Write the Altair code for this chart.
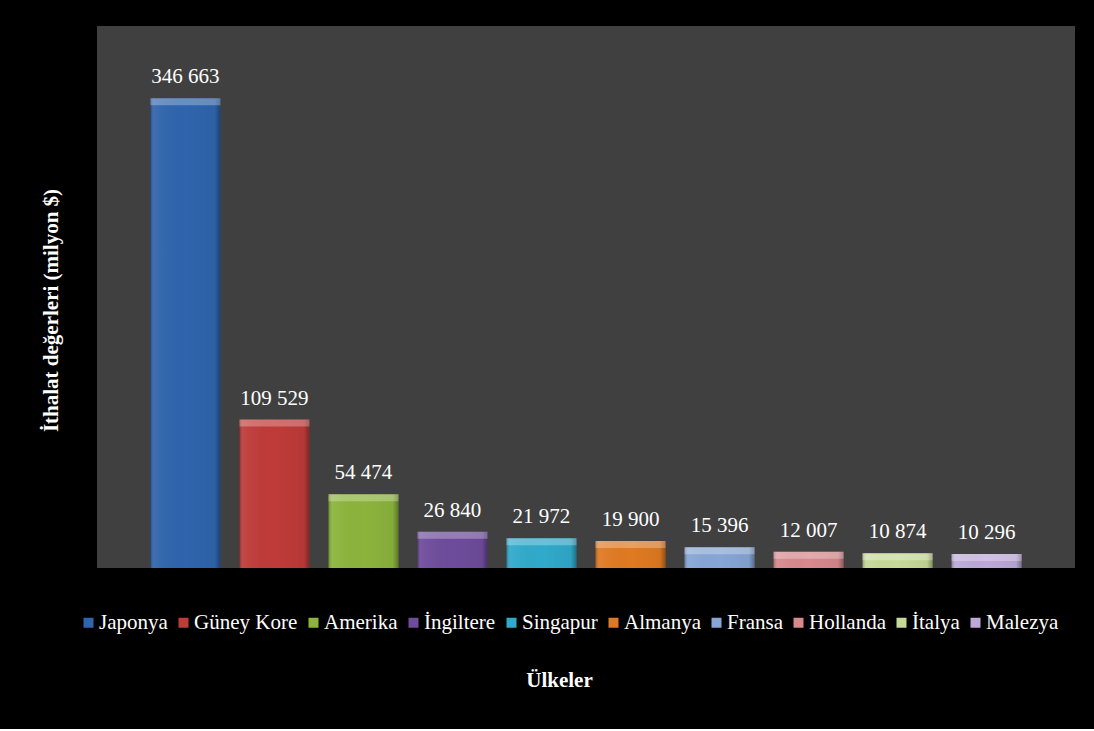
import altair as alt
import pandas as pd

countries = ["Japonya", "Güney Kore", "Amerika", "İngiltere", "Singapur",
             "Almanya", "Fransa", "Hollanda", "İtalya", "Malezya"]
values = [346663, 109529, 54474, 26840, 21972, 19900, 15396, 12007, 10874, 10296]
colors = ["#2f65ad", "#bf3b39", "#8cb43c", "#6e4c9c", "#30aacb",
          "#e07a22", "#86a6d6", "#d7898d", "#c6da98", "#bca9d9"]

df = pd.DataFrame({"country": countries, "value": values})

FONT = "Liberation Serif"

x = alt.X("country:N", sort=countries,
          scale=alt.Scale(paddingInner=0.2135, paddingOuter=0.6),
          axis=alt.Axis(labels=False, ticks=False, domain=False, grid=False,
                        title="Ülkeler", titleFont=FONT, titleFontSize=21,
                        titleFontWeight="bold", titleColor="white",
                        titleX=462, titleY=118, titleAlign="center",
                        titleBaseline="alphabetic"))
y = alt.Y("value:Q", scale=alt.Scale(domain=[0, 400000], nice=False),
          axis=alt.Axis(labels=False, ticks=False, domain=False, grid=False,
                        title="İthalat değerleri (milyon $)", titleFont=FONT,
                        titleFontSize=21, titleFontWeight="bold",
                        titleColor="white", titleAngle=270, titleX=-40,
                        titleY=284, titleAlign="center",
                        titleBaseline="alphabetic"))

color = alt.Color("country:N",
                  scale=alt.Scale(domain=countries, range=colors),
                  legend=alt.Legend(title=None, orient="none", direction="horizontal",
                                    columns=10, legendX=-19, legendY=586,
                                    symbolType="square", symbolSize=100,
                                    symbolStrokeWidth=0, labelFont=FONT,
                                    labelFontSize=21, labelColor="white",
                                    labelOffset=0, columnPadding=5,
                                    labelLimit=200, padding=0))

base = alt.Chart(df)

bars = base.mark_bar(size=70).encode(x=x, y=y, color=color)

shade = base.mark_bar(size=70, fill={
    "gradient": "linear", "x1": 0, "y1": 0, "x2": 1, "y2": 0,
    "stops": [
        {"offset": 0, "color": "rgba(0,0,0,0.28)"},
        {"offset": 0.06, "color": "rgba(255,255,255,0.06)"},
        {"offset": 0.5, "color": "rgba(0,0,0,0)"},
        {"offset": 0.92, "color": "rgba(0,0,0,0.05)"},
        {"offset": 1, "color": "rgba(0,0,0,0.35)"},
    ]}).encode(x=x, y=y)

top = base.mark_tick(size=70, thickness=7, yOffset=3.5, color="white",
                     opacity=0.28).encode(x=x, y=y)

labels = base.mark_text(dy=-15, baseline="alphabetic", align="center",
                        font=FONT, fontSize=21, color="white").transform_calculate(
    label="replace(format(datum.value, ','), ',', ' ')"
).encode(x=x, y=y, text="label:N")

chart = alt.layer(bars, shade, top, labels).properties(
    width=978, height=542,
    background="black",
    padding={"left": 97, "top": 26, "right": 19, "bottom": 161},
    autosize=alt.AutoSizeParams(type="none"),
).configure_view(fill="#404040", stroke=None)

chart.save("out.html", embed_options={"renderer": "svg", "actions": False})
